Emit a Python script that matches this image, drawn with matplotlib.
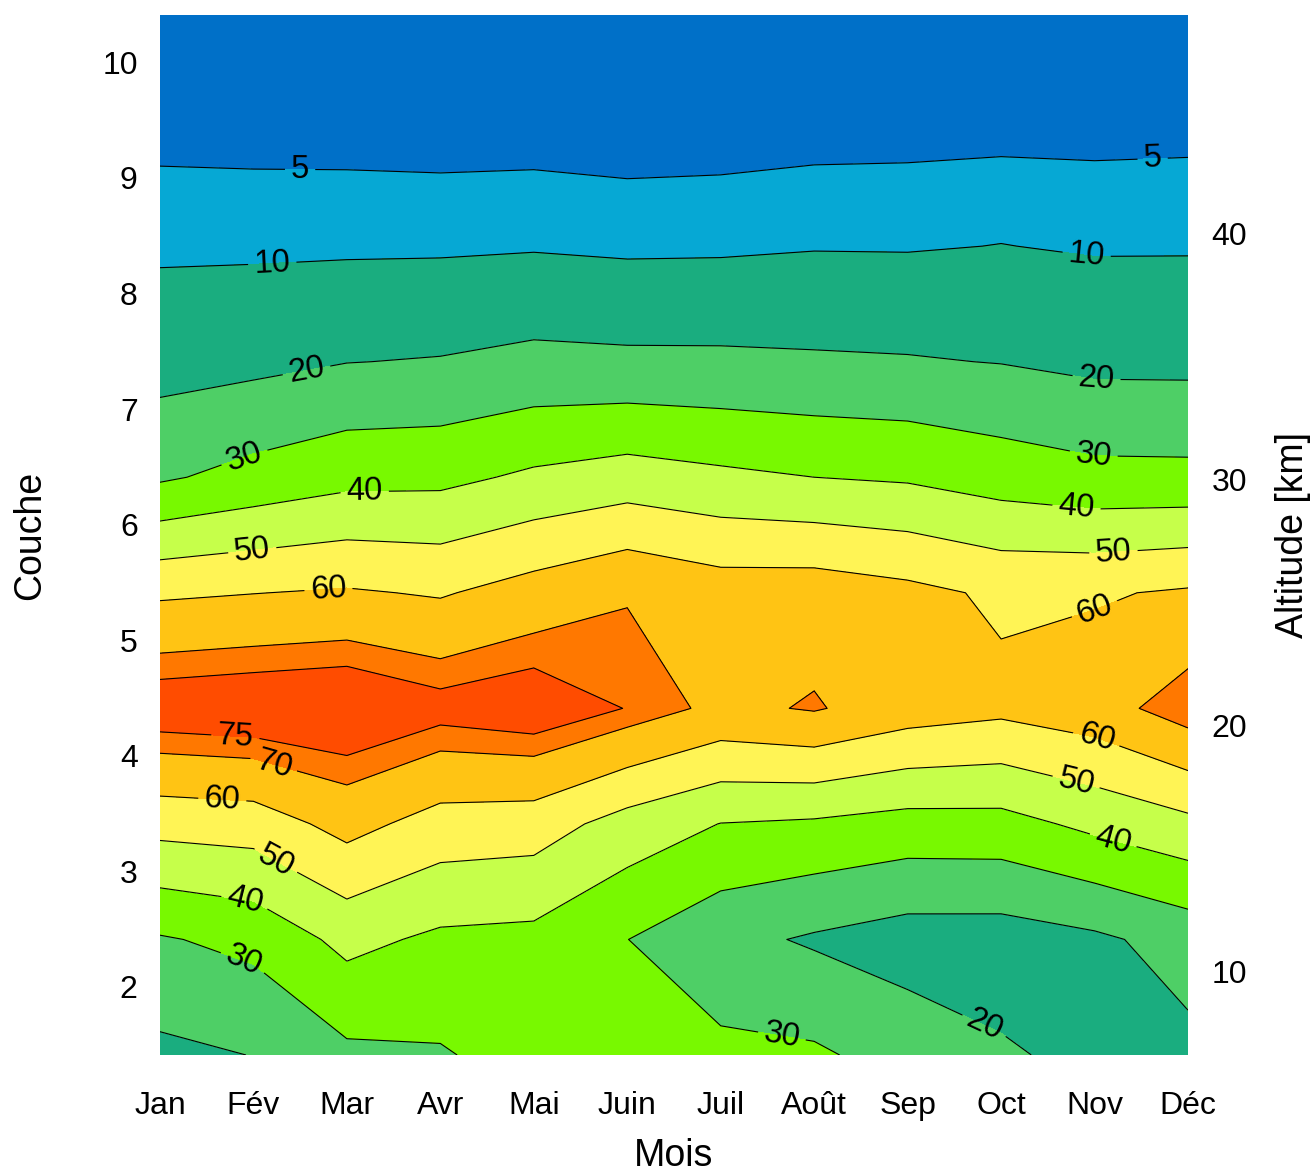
import numpy as np
import matplotlib.pyplot as plt
from matplotlib.colors import ListedColormap, BoundaryNorm

plt.rcParams['font.family'] = ['Liberation Sans', 'DejaVu Sans']

# -----------------------
# Data
# -----------------------
months = ['Jan', 'Fév', 'Mar', 'Avr', 'Mai', 'Juin', 'Juil', 'Août', 'Sep', 'Oct', 'Nov', 'Déc']
layers = [1.41, 2.41, 3.41, 4.41, 5.41, 6.41, 7.41, 8.41, 9.41, 10.41]

# values per month, from the lowest layer to the highest
jan = [17.7, 29.1, 53.5, 80.5, 58.5, 28.7, 16.1, 8.6, 3.4, 1.5]
fev = [20.2, 32.7, 54.7, 81.8, 59.8, 33.2, 17.5, 8.6, 3.2, 1.5]
mar = [27.9, 42.8, 63.4, 83.0, 61.0, 37.0, 19.8, 8.7, 3.1, 1.5]
avr = [29.1, 38.1, 56.0, 78.2, 59.1, 37.5, 20.55, 8.8, 2.8, 1.5]
mai = [34.1, 37.2, 54.8, 80.8, 64.2, 41.7, 22.5, 9.3, 2.8, 1.5]
juin = [34.0, 30.1, 46.0, 74.7, 69.3, 44.5, 21.9, 8.5, 2.5, 1.5]
juil = [32.4, 22.9, 39.8, 67.8, 65.1, 42.0, 21.8, 8.7, 2.7, 1.5]
aout = [31.5, 18.8, 38.6, 70.8, 65.5, 40.0, 21.2, 9.5, 3.1, 1.5]
sep = [26.0, 15.4, 36.2, 65.0, 62.6, 38.8, 20.7, 9.4, 3.3, 1.5]
octo = [21.1, 15.3, 36.5, 62.4, 58.4, 35.4, 19.7, 10.15, 3.5, 1.5]
nov = [17.7, 18.2, 42.4, 65.8, 59.0, 32.8, 17.7, 9.25, 3.5, 1.5]
dec = [17.6, 23.8, 47.5, 74.6, 61.2, 32.6, 17.6, 9.3, 3.7, 1.5]

levels = [0, 5, 10, 20, 30, 40, 50, 60, 70, 75, 90]
line_levels = [5, 10, 20, 30, 40, 50, 60, 70, 75]
alt_ticks = [10, 20, 30, 40]

fill_colors = ['#0070c8', '#06a8d4', '#1aad7f', '#4ecf66', '#78f900',
               '#c6ff4a', '#fff455', '#ffc414', '#ff7800', '#ff4c00']

# label spots (month index, layer)
label_spots = [(1.50, 9.11), (10.62, 9.20), (1.20, 8.29), (9.92, 8.36),
               (1.56, 7.37), (10.02, 7.28), (0.87, 6.66), (9.99, 6.60),
               (2.19, 6.32), (9.81, 6.18), (0.98, 5.84), (10.20, 5.79),
               (1.80, 5.48), (9.99, 5.29), (0.81, 4.20), (1.23, 3.96),
               (0.67, 3.66), (10.03, 4.17), (1.26, 3.12), (9.82, 3.83),
               (0.92, 2.79), (10.23, 3.36), (0.91, 2.26), (6.66, 1.60),
               (8.84, 1.70)]

Z = np.array([jan, fev, mar, avr, mai, juin, juil, aout, sep, octo, nov, dec]).T
x = np.arange(len(months))
y = np.array(layers)

# -----------------------
# Plot
# -----------------------
fig = plt.figure(figsize=(13.11, 11.73), dpi=100)
ax = fig.add_axes([0.1220, 0.1006, 0.7842, 0.8866])

cmap = ListedColormap(fill_colors)
norm = BoundaryNorm(levels, cmap.N)
ax.contourf(x, y, Z, levels=levels, cmap=cmap, norm=norm)
cs = ax.contour(x, y, Z, levels=line_levels, colors='k', linewidths=0.8)
ax.clabel(cs, fmt='%d', fontsize=23.5, inline=True, inline_spacing=6,
          manual=label_spots)

ax.set_xlim(0, 11)
ax.set_ylim(1.41, 10.41)
ax.set_xticks(x)
ax.set_xticklabels(months)
ax.set_yticks(range(2, 11))
ax.tick_params(length=0, labelsize=23)
ax.tick_params(axis='x', pad=26)
ax.tick_params(axis='y', pad=16)
for s in ax.spines.values():
    s.set_visible(False)

ax.set_xlabel('Mois', fontsize=27)
ax.xaxis.set_label_coords(0.5, -0.097)
ax.xaxis.label.set_va('center')
ax.set_ylabel('Couche', fontsize=27)
ax.yaxis.set_label_coords(-0.126, 0.5)
ax.yaxis.label.set_va('center')

# altitude axis
ax2 = ax.twinx()
ax2.set_ylim(6.62, 48.9)
ax2.set_yticks(alt_ticks)
ax2.tick_params(length=0, labelsize=23, pad=17)
for s in ax2.spines.values():
    s.set_visible(False)
ax2.set_ylabel('Altitude [km]', fontsize=27)
ax2.yaxis.set_label_coords(1.102, 0.5)
ax2.yaxis.label.set_va('center')

fig.savefig('out.png', dpi=100)
